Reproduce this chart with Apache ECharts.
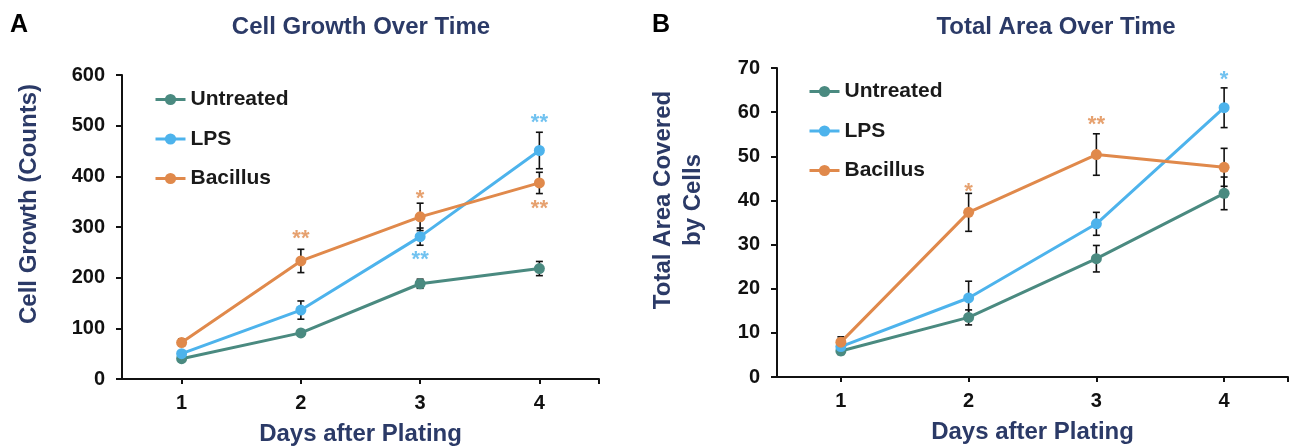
<!DOCTYPE html>
<html>
<head>
<meta charset="utf-8">
<script src="https://cdn.jsdelivr.net/npm/echarts@6/dist/echarts.min.js"></script>
<style>
  html, body { margin: 0; padding: 0; background: #fff; }
  #main { width: 1290px; height: 448px; }
</style>
</head>
<body>
<div id="main"></div>
<script>
// x categories (days)
var days = [1, 2, 3, 4];
var seriesNames = ['Untreated', 'LPS', 'Bacillus'];

// A - cell growth (counts)
var growthUntreated = [40, 91, 188, 218];
var growthLPS = [50, 136, 281, 451];
var growthBacillus = [72, 233, 320, 387];
var growthErrUntreated = [5, 5, 9, 14];
var growthErrLPS = [5, 18, 17, 36];
var growthErrBacillus = [7, 23, 27, 21];
var growthTicks = [0, 100, 200, 300, 400, 500, 600];

// B - total area covered by cells
var areaUntreated = [5.9, 13.5, 26.8, 41.6];
var areaLPS = [6.9, 17.9, 34.7, 61.0];
var areaBacillus = [7.9, 37.3, 50.4, 47.5];
var areaErrUntreated = [0.8, 1.7, 3.0, 3.7];
var areaErrLPS = [0.7, 3.8, 2.6, 4.5];
var areaErrBacillus = [1.2, 4.3, 4.7, 4.3];
var areaTicks = [0, 10, 20, 30, 40, 50, 60, 70];

// significance marks [day, height, text]
var starsA_LPS = [[3, 245, '**'], [4, 516, '**']];
var starsA_Bacillus = [[2, 286, '**'], [3, 365, '*'], [4, 345, '**']];
var starsB_LPS = [[4, 68.4, '*']];
var starsB_Bacillus = [[2, 43.1, '*'], [3, 58.2, '**']];

var colors = { Untreated: '#4a8a80', LPS: '#4db3ec', Bacillus: '#e0894b' };
var navy = '#2b3a67';
var font = '"Liberation Sans", Arial, sans-serif';

function pts(vals) {
    return days.map(function (d, i) { return [d, vals[i]]; });
}
function bars(vals, errs) {
    return days.map(function (d, i) { return [d, vals[i] - errs[i], vals[i] + errs[i]]; });
}

function errorBars(params, api) {
    var x = api.value(0);
    var lo = api.coord([x, api.value(1)]);
    var hi = api.coord([x, api.value(2)]);
    var w = 3.5;
    var st = { stroke: '#111', lineWidth: 1.6 };
    return {
        type: 'group',
        children: [
            { type: 'line', shape: { x1: lo[0], y1: lo[1], x2: hi[0], y2: hi[1] }, style: st },
            { type: 'line', shape: { x1: lo[0] - w, y1: lo[1], x2: lo[0] + w, y2: lo[1] }, style: st },
            { type: 'line', shape: { x1: hi[0] - w, y1: hi[1], x2: hi[0] + w, y2: hi[1] }, style: st }
        ]
    };
}

function lineSeries(name, vals, idx) {
    return {
        name: name,
        type: 'line',
        xAxisIndex: idx,
        yAxisIndex: idx,
        data: pts(vals),
        symbol: 'circle',
        symbolSize: 11,
        color: colors[name],
        lineStyle: { width: 3 },
        z: 3
    };
}
function errSeries(vals, errs, idx) {
    return {
        name: 'err',
        type: 'custom',
        xAxisIndex: idx,
        yAxisIndex: idx,
        renderItem: errorBars,
        encode: { x: 0, y: [1, 2] },
        data: bars(vals, errs),
        z: 2,
        silent: true
    };
}
function starSeries(data, color, idx) {
    return {
        name: 'sig',
        type: 'scatter',
        xAxisIndex: idx,
        yAxisIndex: idx,
        data: data,
        symbolSize: 1,
        itemStyle: { color: 'rgba(0,0,0,0)' },
        label: {
            show: true,
            position: 'inside',
            offset: [0, 5],
            formatter: function (p) { return p.value[2]; },
            color: color,
            fontSize: 22,
            fontWeight: 'bold',
            fontFamily: font
        },
        z: 4,
        silent: true
    };
}

function xAxisOpt(idx) {
    return {
        gridIndex: idx,
        type: 'value',
        min: 0.5,
        max: 4.5,
        name: 'Days after Plating',
        nameLocation: 'middle',
        nameGap: 43,
        nameTextStyle: { color: navy, fontSize: 24, fontWeight: 'bold', fontFamily: font },
        axisLine: { lineStyle: { color: '#111', width: 2 } },
        axisTick: { customValues: days.concat([4.5]), length: 5, lineStyle: { color: '#111', width: 2 } },
        axisLabel: { customValues: days, margin: 14, color: '#111', fontSize: 20, fontWeight: 'bold', fontFamily: font },
        splitLine: { show: false }
    };
}
function yAxisOpt(idx, ticks) {
    return {
        gridIndex: idx,
        type: 'value',
        min: ticks[0],
        max: ticks[ticks.length - 1],
        interval: ticks[1] - ticks[0],
        axisLine: { show: true, lineStyle: { color: '#111', width: 2 } },
        axisTick: { show: true, length: 6, lineStyle: { color: '#111', width: 2 } },
        axisLabel: { margin: 17, color: '#111', fontSize: 20, fontWeight: 'bold', fontFamily: font },
        splitLine: { show: false }
    };
}
function legendOpt(left, top) {
    return {
        data: seriesNames,
        orient: 'vertical',
        left: left,
        top: top,
        itemWidth: 30,
        itemHeight: 14,
        itemGap: 18.5,
        selectedMode: false,
        lineStyle: { width: 3 },
        textStyle: { color: '#1a1a1a', fontSize: 21, fontWeight: 'bold', fontFamily: font }
    };
}
function text(x, y, str, size, color, rot, extra) {
    var style = { text: str, x: 0, y: 0, fill: color, font: 'bold ' + size + 'px ' + font, align: 'center', verticalAlign: 'middle' };
    if (extra) { for (var k in extra) style[k] = extra[k]; }
    return { type: 'text', x: x, y: y, rotation: rot || 0, style: style };
}

var chart = echarts.init(document.getElementById('main'));
chart.setOption({
    backgroundColor: '#fff',
    animation: false,
    grid: [
        { left: 122, top: 75, width: 477, height: 304, outerBoundsMode: 'none', containLabel: false },
        { left: 777, top: 68, width: 511, height: 309, outerBoundsMode: 'none', containLabel: false }
    ],
    xAxis: [xAxisOpt(0), xAxisOpt(1)],
    yAxis: [yAxisOpt(0, growthTicks), yAxisOpt(1, areaTicks)],
    legend: [legendOpt(149, 84), legendOpt(803, 76)],
    graphic: [
        text(19, 25, 'A', 25, '#000'),
        text(661, 25, 'B', 25, '#000'),
        text(361, 27, 'Cell Growth Over Time', 24, navy),
        text(1056, 27, 'Total Area Over Time', 24, navy),
        text(29, 204, 'Cell Growth (Counts)', 24, navy, Math.PI / 2),
        text(678, 200, 'Total Area Covered\nby Cells', 24, navy, Math.PI / 2, { lineHeight: 30 })
    ],
    series: [
        errSeries(growthUntreated, growthErrUntreated, 0),
        errSeries(growthLPS, growthErrLPS, 0),
        errSeries(growthBacillus, growthErrBacillus, 0),
        lineSeries('Untreated', growthUntreated, 0),
        lineSeries('LPS', growthLPS, 0),
        lineSeries('Bacillus', growthBacillus, 0),
        starSeries(starsA_LPS, colors.LPS, 0),
        starSeries(starsA_Bacillus, colors.Bacillus, 0),

        errSeries(areaUntreated, areaErrUntreated, 1),
        errSeries(areaLPS, areaErrLPS, 1),
        errSeries(areaBacillus, areaErrBacillus, 1),
        lineSeries('Untreated', areaUntreated, 1),
        lineSeries('LPS', areaLPS, 1),
        lineSeries('Bacillus', areaBacillus, 1),
        starSeries(starsB_LPS, colors.LPS, 1),
        starSeries(starsB_Bacillus, colors.Bacillus, 1)
    ]
});
</script>
</body>
</html>
